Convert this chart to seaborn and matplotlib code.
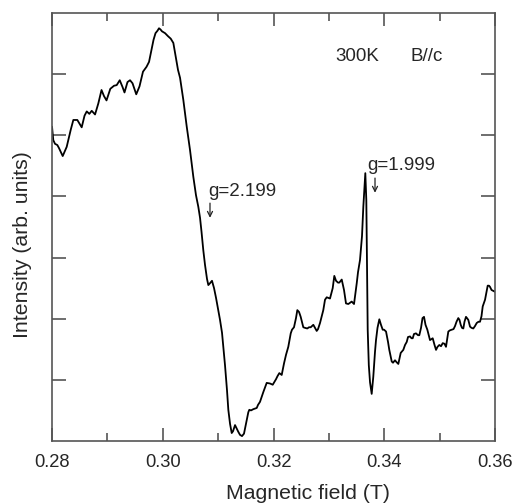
import matplotlib
matplotlib.use('Agg')
import matplotlib.pyplot as plt
import seaborn as sns
from matplotlib.ticker import MultipleLocator

# field in tesla, intensity in arbitrary units
field = [
    0.28000, 0.28023, 0.28054, 0.28096, 0.28126, 0.28193, 0.28265, 0.28338, 0.28385, 0.28457,
    0.28536, 0.28587, 0.28627, 0.28674, 0.28717, 0.28777, 0.28836, 0.28894, 0.28939, 0.28984,
    0.29053, 0.29120, 0.29168, 0.29223, 0.29273, 0.29309, 0.29363, 0.29409, 0.29454, 0.29521,
    0.29580, 0.29643, 0.29707, 0.29752, 0.29797, 0.29833, 0.29869, 0.29905, 0.29932, 0.29959,
    0.29986, 0.30041, 0.30095, 0.30144, 0.30191, 0.30230, 0.30275, 0.30312, 0.30371, 0.30433,
    0.30492, 0.30552, 0.30600, 0.30642, 0.30673, 0.30700, 0.30732, 0.30763, 0.30799, 0.30823,
    0.30853, 0.30889, 0.30926, 0.30962, 0.31034, 0.31070, 0.31124, 0.31160, 0.31184, 0.31215,
    0.31245, 0.31269, 0.31305, 0.31332, 0.31364, 0.31395, 0.31431, 0.31467, 0.31516, 0.31545,
    0.31563, 0.31594, 0.31635, 0.31697, 0.31720, 0.31756, 0.31816, 0.31877, 0.31937, 0.31986,
    0.32045, 0.32072, 0.32105, 0.32148, 0.32190, 0.32226, 0.32267, 0.32311, 0.32334, 0.32370,
    0.32406, 0.32430, 0.32461, 0.32491, 0.32538, 0.32569, 0.32610, 0.32641, 0.32672, 0.32719,
    0.32780, 0.32804, 0.32840, 0.32899, 0.32930, 0.32961, 0.33020, 0.33069, 0.33098, 0.33129,
    0.33165, 0.33188, 0.33232, 0.33273, 0.33309, 0.33351, 0.33382, 0.33412, 0.33454, 0.33503,
    0.33526, 0.33562, 0.33598, 0.33622, 0.33658, 0.33676, 0.33688, 0.33701, 0.33721, 0.33743,
    0.33773, 0.33802, 0.33833, 0.33851, 0.33878, 0.33911, 0.33941, 0.33972, 0.33996, 0.34032,
    0.34068, 0.34091, 0.34135, 0.34158, 0.34194, 0.34221, 0.34254, 0.34297, 0.34344, 0.34375,
    0.34406, 0.34429, 0.34465, 0.34492, 0.34514, 0.34537, 0.34573, 0.34610, 0.34633, 0.34664,
    0.34691, 0.34718, 0.34745, 0.34778, 0.34826, 0.34875, 0.34908, 0.34935, 0.34962, 0.34994,
    0.35025, 0.35056, 0.35088, 0.35115, 0.35157, 0.35187, 0.35218, 0.35251, 0.35278, 0.35305,
    0.35337, 0.35359, 0.35381, 0.35404, 0.35428, 0.35449, 0.35476, 0.35494, 0.35518, 0.35549,
    0.35576, 0.35608, 0.35639, 0.35670, 0.35702, 0.35729, 0.35756, 0.35778, 0.35802, 0.35820,
    0.35847, 0.35868, 0.35892, 0.35910, 0.35937, 0.35959, 0.36000,
]
intensity = [
    5.14, 4.92, 4.86, 4.84, 4.79, 4.66, 4.81, 5.09, 5.25, 5.25,
    5.13, 5.32, 5.39, 5.35, 5.40, 5.34, 5.52, 5.74, 5.64, 5.57,
    5.76, 5.81, 5.82, 5.90, 5.79, 5.70, 5.87, 5.90, 5.85, 5.67,
    5.80, 6.04, 6.12, 6.20, 6.40, 6.56, 6.67, 6.71, 6.75, 6.73,
    6.70, 6.67, 6.62, 6.58, 6.51, 6.31, 6.07, 5.94, 5.58, 5.14,
    4.76, 4.32, 4.02, 3.83, 3.65, 3.42, 3.12, 2.88, 2.65, 2.55,
    2.58, 2.62, 2.50, 2.34, 1.98, 1.77, 1.24, 0.83, 0.51, 0.28,
    0.13, 0.16, 0.26, 0.21, 0.15, 0.10, 0.08, 0.12, 0.34, 0.47,
    0.51, 0.50, 0.52, 0.54, 0.59, 0.64, 0.80, 0.95, 0.94, 0.92,
    1.01, 1.06, 1.11, 1.08, 1.27, 1.41, 1.54, 1.76, 1.82, 1.86,
    2.01, 2.14, 2.11, 2.03, 1.86, 1.85, 1.84, 1.86, 1.86, 1.90,
    1.80, 1.83, 1.93, 2.14, 2.31, 2.35, 2.33, 2.50, 2.70, 2.62,
    2.59, 2.59, 2.64, 2.47, 2.25, 2.24, 2.26, 2.28, 2.24, 2.58,
    2.76, 2.96, 3.35, 3.83, 4.38, 3.94, 2.96, 1.82, 1.24, 0.96,
    0.77, 1.05, 1.46, 1.65, 1.85, 1.99, 1.90, 1.82, 1.82, 1.79,
    1.62, 1.49, 1.30, 1.28, 1.32, 1.29, 1.26, 1.44, 1.49, 1.57,
    1.62, 1.70, 1.71, 1.68, 1.68, 1.75, 1.76, 1.73, 1.73, 1.85,
    2.01, 2.03, 1.90, 1.82, 1.65, 1.68, 1.57, 1.49, 1.54, 1.57,
    1.55, 1.60, 1.59, 1.54, 1.79, 1.81, 1.82, 1.83, 1.88, 1.95,
    2.01, 1.98, 1.90, 1.85, 1.84, 1.95, 2.03, 2.01, 1.98, 1.87,
    1.85, 1.84, 1.88, 1.93, 1.95, 1.95, 2.04, 2.20, 2.26, 2.31,
    2.44, 2.54, 2.54, 2.52, 2.47, 2.46, 2.44,
]

x_ticks = [0.28, 0.30, 0.32, 0.34, 0.36]
x_tick_labels = ['0.28', '0.30', '0.32', '0.34', '0.36']

# annotations: (text, field, intensity) and arrows (field, top, bottom)
g_labels = [('g=2.199', 0.30823, 4.00), ('g=1.999', 0.33701, 4.44)]
g_arrows = [(0.30853, 3.89, 3.65), (0.33833, 4.30, 4.06)]

sns.set_style('ticks')
plt.rcParams['font.family'] = ['Liberation Sans', 'DejaVu Sans']

axis_col = '#555555'

fig, ax = plt.subplots(figsize=(5.12, 5.03), dpi=100)
fig.subplots_adjust(left=0.1016, right=0.9668, bottom=0.1233, top=0.9742)

sns.lineplot(x=field, y=intensity, ax=ax, color='black', lw=1.3,
             sort=False, estimator=None)

ax.set_xlim(0.28, 0.36)
ax.set_ylim(0, 7)
ax.set_xticks(x_ticks)
ax.set_xticklabels(x_tick_labels)
ax.xaxis.set_minor_locator(MultipleLocator(0.01))
ax.set_yticks([1, 2, 3, 4, 5, 6])
ax.set_yticklabels([])

for s in ax.spines.values():
    s.set_visible(True)
    s.set_color(axis_col)
    s.set_linewidth(1.2)

ax.tick_params(which='both', direction='in', top=True, right=True,
               color=axis_col, width=1.2)
ax.tick_params(axis='x', which='major', length=9.4, labelsize=13.2, pad=9.5)
ax.tick_params(axis='x', which='minor', length=5.8)
ax.tick_params(axis='y', which='major', length=10)

ax.set_xlabel('Magnetic field (T)', fontsize=15.3)
ax.xaxis.label.set_va('baseline')
ax.xaxis.set_label_coords(0.578, -0.1355)
ax.set_ylabel('Intensity (arb. units)', fontsize=15.3)
ax.yaxis.label.set_va('center')
ax.yaxis.set_label_coords(-0.0666, 0.458)

for txt, x, y in g_labels:
    ax.text(x, y, txt, fontsize=13.5, ha='left', va='baseline')
for x, y0, y1 in g_arrows:
    ax.annotate('', xy=(x, y1), xytext=(x, y0),
                arrowprops=dict(arrowstyle='->', lw=0.9, color='#222222',
                                shrinkA=0, shrinkB=0, mutation_scale=9))

ax.text(0.33111, 6.21, '300K', fontsize=13.5, ha='left', va='baseline')
ax.text(0.34465, 6.21, 'B//c', fontsize=13.5, ha='left', va='baseline')

fig.savefig('out.png', dpi=100)
